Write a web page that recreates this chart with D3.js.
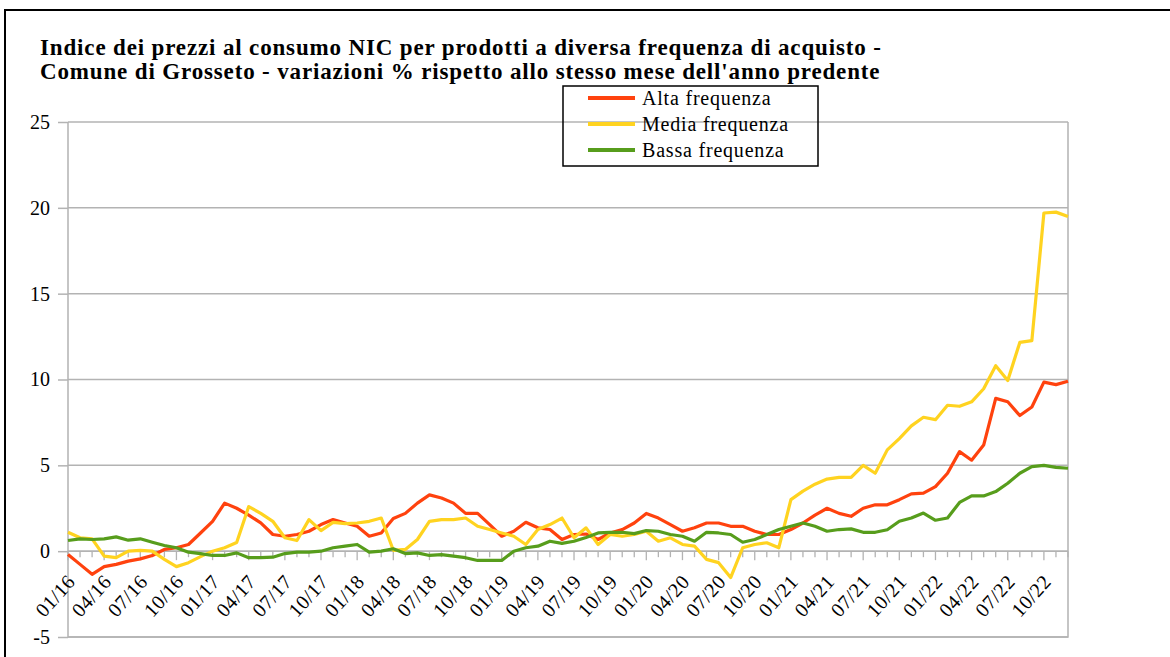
<!DOCTYPE html>
<html>
<head>
<meta charset="utf-8">
<script src="https://cdn.jsdelivr.net/npm/d3@7"></script>
<style>
  body { margin: 0; background: #fff; }
  svg { display: block; font-family: 'Liberation Serif', 'Times New Roman', serif; }
</style>
</head>
<body>
<svg id="chart" width="1170" height="657"></svg>
<script>
// months (x categories)
var months = [
  '01/16', '02/16', '03/16', '04/16', '05/16', '06/16', '07/16', '08/16', '09/16', '10/16', '11/16', '12/16',
  '01/17', '02/17', '03/17', '04/17', '05/17', '06/17', '07/17', '08/17', '09/17', '10/17', '11/17', '12/17',
  '01/18', '02/18', '03/18', '04/18', '05/18', '06/18', '07/18', '08/18', '09/18', '10/18', '11/18', '12/18',
  '01/19', '02/19', '03/19', '04/19', '05/19', '06/19', '07/19', '08/19', '09/19', '10/19', '11/19', '12/19',
  '01/20', '02/20', '03/20', '04/20', '05/20', '06/20', '07/20', '08/20', '09/20', '10/20', '11/20', '12/20',
  '01/21', '02/21', '03/21', '04/21', '05/21', '06/21', '07/21', '08/21', '09/21', '10/21', '11/21', '12/21',
  '01/22', '02/22', '03/22', '04/22', '05/22', '06/22', '07/22', '08/22', '09/22', '10/22', '11/22', '12/22'
]
// labelled months on the x axis
var tickLabels = [
  '01/16', '04/16', '07/16', '10/16', '01/17', '04/17', '07/17', '10/17',
  '01/18', '04/18', '07/18', '10/18', '01/19', '04/19', '07/19', '10/19',
  '01/20', '04/20', '07/20', '10/20', '01/21', '04/21', '07/21', '10/21',
  '01/22', '04/22', '07/22', '10/22'
]
var yTicks = [-5, 0, 5, 10, 15, 20, 25]

var alta = [
  -0.19, -0.77, -1.35, -0.9, -0.77, -0.58, -0.45, -0.25, 0.1, 0.2, 0.39, 1.06,
  1.74, 2.8, 2.5, 2.1, 1.65, 0.97, 0.87, 0.97, 1.16, 1.55, 1.84, 1.64,
  1.45, 0.87, 1.06, 1.9, 2.2, 2.8, 3.28, 3.1, 2.8, 2.2, 2.2, 1.55,
  0.87, 1.16, 1.68, 1.36, 1.26, 0.68, 0.97, 1.0, 0.68, 1.06, 1.26, 1.64,
  2.2, 1.93, 1.55, 1.16, 1.36, 1.64, 1.64, 1.45, 1.45, 1.16, 0.97, 0.97,
  1.26, 1.64, 2.1, 2.5, 2.2, 2.03, 2.5, 2.7, 2.7, 3.0, 3.34, 3.38,
  3.76, 4.54, 5.8, 5.3, 6.18, 8.9, 8.7, 7.9, 8.4, 9.85, 9.7, 9.9
]
var media = [
  1.1, 0.78, 0.72, -0.29, -0.38, 0.0, 0.05, 0.0, -0.48, -0.9, -0.67, -0.32,
  0.0, 0.2, 0.5, 2.6, 2.2, 1.74, 0.78, 0.62, 1.84, 1.2, 1.68, 1.6,
  1.64, 1.74, 1.93, 0.05, 0.1, 0.68, 1.74, 1.84, 1.84, 1.93, 1.45, 1.26,
  1.06, 0.87, 0.39, 1.26, 1.55, 1.93, 0.78, 1.36, 0.39, 0.97, 0.87, 0.97,
  1.16, 0.58, 0.78, 0.39, 0.29, -0.48, -0.67, -1.54, 0.2, 0.39, 0.49, 0.2,
  3.0, 3.5, 3.9, 4.2, 4.3, 4.3, 5.0, 4.54, 5.9, 6.56, 7.3, 7.8,
  7.66, 8.5, 8.44, 8.7, 9.46, 10.8, 9.94, 12.16, 12.26, 19.7, 19.75, 19.5
]
var bassa = [
  0.62, 0.72, 0.68, 0.72, 0.83, 0.64, 0.72, 0.52, 0.33, 0.2, -0.06, -0.14,
  -0.25, -0.25, -0.1, -0.38, -0.38, -0.35, -0.14, -0.06, -0.06, 0.0, 0.2, 0.29,
  0.39, -0.06, 0.0, 0.14, -0.14, -0.1, -0.25, -0.2, -0.29, -0.38, -0.54, -0.54,
  -0.54, 0.0, 0.2, 0.29, 0.58, 0.45, 0.58, 0.8, 1.06, 1.1, 1.1, 1.02,
  1.2, 1.16, 0.97, 0.87, 0.58, 1.1, 1.06, 0.97, 0.52, 0.68, 0.97, 1.26,
  1.45, 1.64, 1.45, 1.16, 1.26, 1.3, 1.1, 1.1, 1.25, 1.74, 1.93, 2.22,
  1.8, 1.93, 2.84, 3.22, 3.22, 3.47, 3.96, 4.54, 4.92, 5.0, 4.88, 4.83
]

var series = [
  {name: 'Alta frequenza', values: alta, color: '#ff420e'},
  {name: 'Media frequenza', values: media, color: '#ffd320'},
  {name: 'Bassa frequenza', values: bassa, color: '#579d1c'}
]

var svg = d3.select('#chart')
var grid = '#b3b3b3'

// outer frame
svg.append('path')
  .attr('d', 'M5,660 L5,10 L1175,10')
  .attr('fill', 'none')
  .attr('stroke', '#000')
  .attr('stroke-width', 2)

// title
var title = svg.append('text')
  .attr('font-size', 23)
  .attr('font-weight', 'bold')
  .attr('letter-spacing', 0.85)
title.append('tspan').attr('x', 40).attr('y', 55)
  .text('Indice dei prezzi al consumo NIC per prodotti a diversa frequenza di acquisto -')
title.append('tspan').attr('x', 40).attr('y', 79)
  .text("Comune di Grosseto - variazioni % rispetto allo stesso mese dell'anno predente")

// scales
var x = d3.scalePoint().domain(months).range([68, 1068])
var y = d3.scaleLinear().domain([-5, 25]).range([637, 122])

// horizontal grid
svg.append('g')
  .selectAll('line')
  .data(yTicks)
  .join('line')
  .attr('x1', 68).attr('x2', 1068)
  .attr('y1', d => y(d)).attr('y2', d => y(d))
  .attr('stroke', grid)
  .attr('stroke-width', 1.5)

// plot frame (left, right, bottom)
svg.append('path')
  .attr('d', 'M68,' + y(25) + ' L68,' + y(-5) + ' L1068,' + y(-5) + ' L1068,' + y(25))
  .attr('fill', 'none')
  .attr('stroke', grid)
  .attr('stroke-width', 1.5)

// y axis
var yAxis = svg.append('g')
  .attr('transform', 'translate(68,0)')
  .call(d3.axisLeft(y).tickValues(yTicks).tickSize(10).tickPadding(8).tickFormat(d3.format('d')))
yAxis.select('.domain').remove()
yAxis.selectAll('line').attr('stroke', grid).attr('stroke-width', 1.5)
yAxis.selectAll('text')
  .attr('font-family', 'Liberation Serif')
  .attr('font-size', 20)
  .attr('fill', '#000')
  .text(d => d < 0 ? '-' + Math.abs(d) : d)

// x axis at zero
var xg = svg.append('g').attr('transform', 'translate(0,' + y(0) + ')')
xg.append('line')
  .attr('x1', 68).attr('x2', 1068)
  .attr('stroke', grid).attr('stroke-width', 1.5)
xg.selectAll('line.tk')
  .data(months)
  .join('line')
  .attr('class', 'tk')
  .attr('x1', d => x(d)).attr('x2', d => x(d))
  .attr('y1', 0)
  .attr('y2', d => tickLabels.indexOf(d) >= 0 ? 9 : 6)
  .attr('stroke', grid)
  .attr('stroke-width', 1.3)
xg.selectAll('text')
  .data(tickLabels)
  .join('text')
  .attr('transform', d => 'translate(' + (x(d) - 2) + ',22) rotate(-48)')
  .attr('text-anchor', 'end')
  .attr('dy', '0.7em')
  .attr('font-size', 20)
  .attr('letter-spacing', 0.5)
  .attr('fill', '#000')
  .text(d => d)

// lines
var line = d3.line()
  .x((d, i) => x(months[i]))
  .y(d => y(d))

svg.append('g')
  .selectAll('path')
  .data(series)
  .join('path')
  .attr('fill', 'none')
  .attr('stroke', d => d.color)
  .attr('stroke-width', 3.2)
  .attr('stroke-linejoin', 'round')
  .attr('d', d => line(d.values))

// legend
var legend = svg.append('g')
legend.append('rect')
  .attr('x', 563).attr('y', 86)
  .attr('width', 255).attr('height', 80)
  .attr('fill', 'none')
  .attr('stroke', '#000')
  .attr('stroke-width', 1.5)
var item = legend.selectAll('g')
  .data(series)
  .join('g')
  .attr('transform', (d, i) => 'translate(0,' + (98 + i * 26) + ')')
item.append('line')
  .attr('x1', 588).attr('x2', 635)
  .attr('stroke', d => d.color)
  .attr('stroke-width', 4)
item.append('text')
  .attr('x', 642)
  .attr('dy', '0.35em')
  .attr('font-size', 20)
  .attr('letter-spacing', 0.8)
  .text(d => d.name)
</script>
</body>
</html>
